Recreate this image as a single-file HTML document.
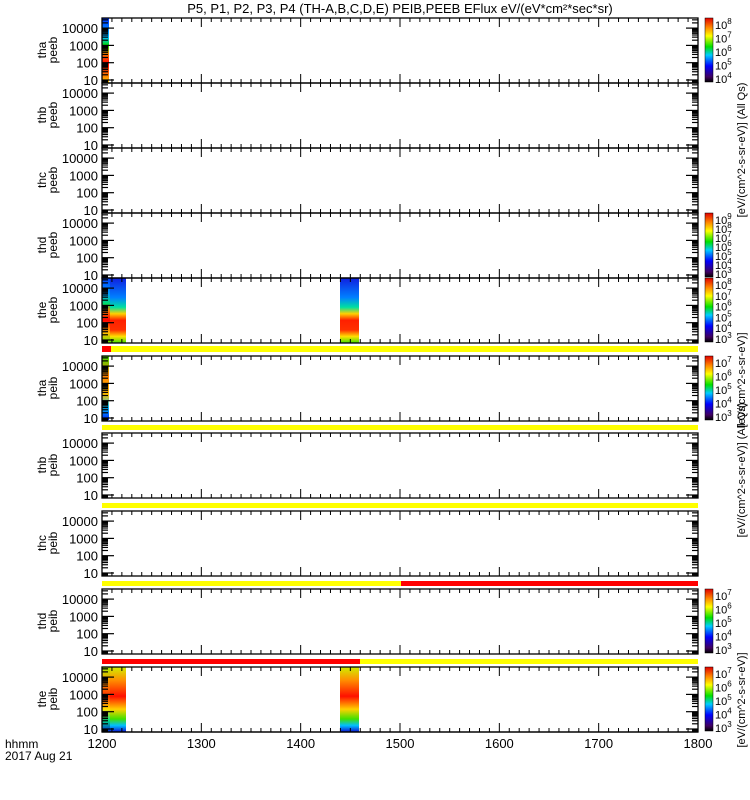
<!DOCTYPE html><html><head><style>body{margin:0;background:#fff}svg{display:block;font-family:"Liberation Sans",sans-serif}</style></head><body>
<svg id="s" width="750" height="800" xmlns="http://www.w3.org/2000/svg">
<defs>
<linearGradient id="cb" x1="0" y1="1" x2="0" y2="0">
<stop offset="0" stop-color="#000"/><stop offset="0.08" stop-color="#400060"/><stop offset="0.25" stop-color="#0000ff"/><stop offset="0.42" stop-color="#00ccff"/><stop offset="0.55" stop-color="#00e000"/><stop offset="0.72" stop-color="#ffff00"/><stop offset="0.86" stop-color="#ff8000"/><stop offset="1" stop-color="#e00000"/></linearGradient>
<linearGradient id="g5a" x1="0" y1="0" x2="0" y2="1"><stop offset="0" stop-color="#0040ff"/><stop offset="0.25" stop-color="#00a0ff"/><stop offset="0.4" stop-color="#00e060"/><stop offset="0.5" stop-color="#ff8000"/><stop offset="0.65" stop-color="#ff0000"/><stop offset="0.85" stop-color="#ffc000"/><stop offset="1" stop-color="#60e000"/></linearGradient>
<linearGradient id="g5b" x1="0" y1="0" x2="0" y2="1"><stop offset="0" stop-color="#1020e0"/><stop offset="0.3" stop-color="#0080ff"/><stop offset="0.45" stop-color="#00e0a0"/><stop offset="0.55" stop-color="#ffd000"/><stop offset="0.65" stop-color="#ff2000"/><stop offset="0.8" stop-color="#ff3000"/><stop offset="0.9" stop-color="#ffe000"/><stop offset="1" stop-color="#40e000"/></linearGradient>
<linearGradient id="g10a" x1="0" y1="0" x2="0" y2="1"><stop offset="0" stop-color="#a0f000"/><stop offset="0.2" stop-color="#ffa000"/><stop offset="0.45" stop-color="#ff3000"/><stop offset="0.65" stop-color="#ffe000"/><stop offset="0.82" stop-color="#00e080"/><stop offset="1" stop-color="#0020e0"/></linearGradient>
<linearGradient id="g10b" x1="0" y1="0" x2="0" y2="1"><stop offset="0" stop-color="#d0f000"/><stop offset="0.2" stop-color="#ff9000"/><stop offset="0.45" stop-color="#ff1000"/><stop offset="0.65" stop-color="#ffd000"/><stop offset="0.8" stop-color="#40e000"/><stop offset="0.9" stop-color="#00c0ff"/><stop offset="1" stop-color="#1010d0"/></linearGradient>
<linearGradient id="g1" x1="0" y1="0" x2="0" y2="1"><stop offset="0" stop-color="#0030ff"/><stop offset="0.3" stop-color="#00c0ff"/><stop offset="0.42" stop-color="#00e000"/><stop offset="0.55" stop-color="#ff8000"/><stop offset="0.7" stop-color="#ff0000"/><stop offset="1" stop-color="#ffd000"/></linearGradient>
<linearGradient id="g6" x1="0" y1="0" x2="0" y2="1"><stop offset="0" stop-color="#40e000"/><stop offset="0.3" stop-color="#ff8000"/><stop offset="0.6" stop-color="#ffc000"/><stop offset="0.8" stop-color="#00c0ff"/><stop offset="1" stop-color="#0020ff"/></linearGradient>
</defs>
<text x="400" y="13" font-size="13" text-anchor="middle">P5, P1, P2, P3, P4 (TH-A,B,C,D,E) PEIB,PEEB EFlux eV/(eV*cm²*sec*sr)</text>
<g id="p"></g>
<text x="5" y="748" font-size="12">hhmm</text><text x="5" y="760" font-size="12">2017 Aug 21</text>
</svg>
<script>
var g=document.getElementById('p'),h='';
var tops=[18,83,148,213,278,356,433,511,589,667];
var names=[['tha','peeb'],['thb','peeb'],['thc','peeb'],['thd','peeb'],['the','peeb'],['tha','peib'],['thb','peib'],['thc','peib'],['thd','peib'],['the','peib']];
var L=102,R=698;
function X(t){return L+(t-1200)/600*(R-L);}
h+='<rect x="102" y="18" width="7" height="65" fill="url(#g1)"/>';
h+='<rect x="102" y="278" width="8" height="65" fill="url(#g5a)"/><rect x="110" y="278" width="16" height="65" fill="url(#g5b)"/><rect x="340" y="278" width="19" height="65" fill="url(#g5b)"/>';
h+='<rect x="102" y="356" width="7" height="64" fill="url(#g6)"/>';
h+='<rect x="102" y="667" width="8" height="65" fill="url(#g10a)"/><rect x="110" y="667" width="16" height="65" fill="url(#g10b)"/><rect x="340" y="667" width="19" height="65" fill="url(#g10b)"/>';
h+='<rect x="102" y="346" width="9" height="6" fill="#f00"/><rect x="111" y="346" width="587" height="6" fill="#ff0"/>';
h+='<rect x="102" y="425" width="596" height="5" fill="#ff0"/><rect x="102" y="503" width="596" height="5" fill="#ff0"/>';
h+='<rect x="102" y="581" width="299" height="5" fill="#ff0"/><rect x="401" y="581" width="297" height="5" fill="#f00"/>';
h+='<rect x="102" y="659" width="258" height="5" fill="#f00"/><rect x="360" y="659" width="338" height="5" fill="#ff0"/>';
for(var i=0;i<10;i++){
 var t=tops[i],b=t+65,hh=65;
 h+='<rect x="'+L+'" y="'+t+'" width="'+(R-L)+'" height="'+hh+'" fill="none" stroke="#000" stroke-width="1.3"/>';
 for(var m=1200;m<=1800;m+=10){var x=X(m),len=(m%100==0)?9:4;
  h+='<line x1="'+x+'" y1="'+b+'" x2="'+x+'" y2="'+(b-len)+'" stroke="#000"/><line x1="'+x+'" y1="'+t+'" x2="'+x+'" y2="'+(t+len)+'" stroke="#000"/>';}
 for(var d=0;d<5;d++)for(var k=1;k<10;k++){var v=Math.pow(10,d)*k;var y=b-3-(Math.log10(v)-1)*17.3;
  if(y<t||y>b)continue;var len=(k==1)?12:6;
  h+='<line x1="'+L+'" y1="'+y+'" x2="'+(L+len)+'" y2="'+y+'" stroke="#000" stroke-width="1.2"/><line x1="'+R+'" y1="'+y+'" x2="'+(R-len)+'" y2="'+y+'" stroke="#000" stroke-width="1.2"/>';
  if(k==1)h+='<text x="98" y="'+(y+5)+'" font-size="13" text-anchor="end">'+v+'</text>';}
 var cy=t+32;
 h+='<text transform="translate(46,'+cy+') rotate(-90)" font-size="12" text-anchor="middle">'+names[i][0]+'</text><text transform="translate(57,'+cy+') rotate(-90)" font-size="12" text-anchor="middle">'+names[i][1]+'</text>';
}
h+='<line x1="102" y1="732" x2="698" y2="732" stroke="#000" stroke-width="1.3"/>';
for(var m=1200;m<=1800;m+=100)h+='<text x="'+X(m)+'" y="748" font-size="13" text-anchor="middle">'+m+'</text>';
var cbs=[[18,[8,7,6,5,4]],[213,[9,8,7,6,5,4,3]],[278,[8,7,6,5,4,3]],[356,[7,6,5,4,3]],[589,[7,6,5,4,3]],[667,[7,6,5,4,3]]];
cbs.forEach(function(c){var t=c[0];h+='<rect x="705" y="'+t+'" width="8" height="64" fill="url(#cb)" stroke="#000" stroke-width="0.5"/>';
 var n=c[1].length;c[1].forEach(function(e,j){var y=t+6+j*(54/(n-1));h+='<text x="715" y="'+(y+5)+'" font-size="11">10<tspan dy="-5" font-size="8">'+e+'</tspan></text>';});});
var rt=[[745,150,'[eV/(cm^2-s-sr-eV)] (All Qs)'],[745,470,'[eV/(cm^2-s-sr-eV)] (All Qs)'],[745,380,'[eV/(cm^2-s-sr-eV)]'],[745,700,'[eV/(cm^2-s-sr-eV)]']];
rt.forEach(function(r){h+='<text transform="translate('+r[0]+','+r[1]+') rotate(-90)" font-size="11" text-anchor="middle">'+r[2]+'</text>';});
g.innerHTML=h;
</script>
</body></html>
